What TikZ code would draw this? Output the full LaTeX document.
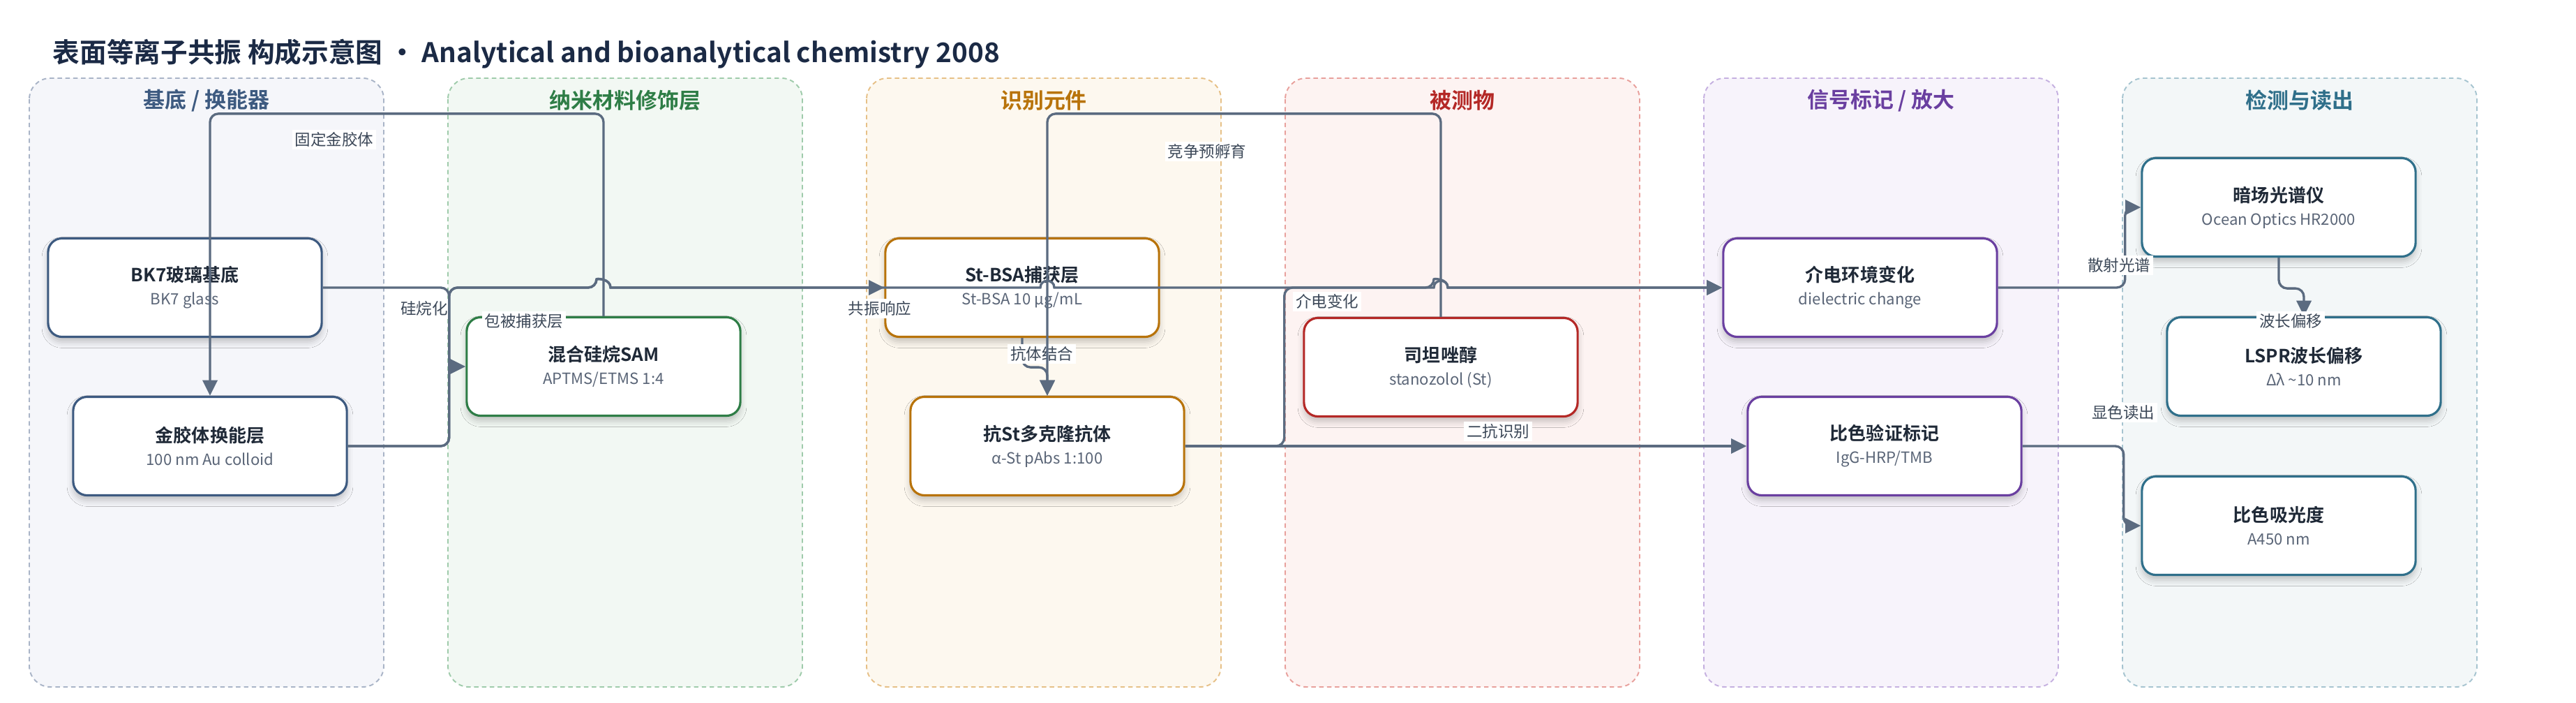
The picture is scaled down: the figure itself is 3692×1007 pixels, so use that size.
\documentclass[tikz,border=0pt]{standalone}
\usepackage{fontspec}
\setmainfont{Noto Sans CJK SC}[BoldFont={Noto Sans CJK SC Bold}]
\usetikzlibrary{arrows.meta,calc,shadows.blur}

\definecolor{ink}{HTML}{1F2937}
\definecolor{sub}{HTML}{5A6577}
\definecolor{wire}{HTML}{5B6B80}
\definecolor{tagc}{HTML}{3C4858}
\definecolor{headc}{HTML}{1B2A45}
\definecolor{hueA}{HTML}{3D5A80}\definecolor{bgA}{HTML}{F5F6FA}\definecolor{rimA}{HTML}{A9B4C7}
\definecolor{hueB}{HTML}{2E7D46}\definecolor{bgB}{HTML}{F2F8F3}\definecolor{rimB}{HTML}{9FCBAB}
\definecolor{hueC}{HTML}{B8730A}\definecolor{bgC}{HTML}{FDF8EF}\definecolor{rimC}{HTML}{E6C087}
\definecolor{hueD}{HTML}{B42826}\definecolor{bgD}{HTML}{FDF3F2}\definecolor{rimD}{HTML}{E8A09C}
\definecolor{hueE}{HTML}{6A3FA0}\definecolor{bgE}{HTML}{F7F3FB}\definecolor{rimE}{HTML}{C5B0E0}
\definecolor{hueF}{HTML}{2F6F8A}\definecolor{bgF}{HTML}{F3F7F8}\definecolor{rimF}{HTML}{A6C4D0}

\newcommand{\duo}[2]{{\fontsize{7.4}{9}\selectfont\bfseries\color{ink}#1}\\{\color{sub}#2}}

\tikzset{
  lane/.style={dash pattern=on 1.8pt off 1.4pt, line width=0.55pt, rounded corners=0.3cm},
  lanehead/.style={font=\fontsize{8.8}{11}\selectfont\bfseries},
  card/.style={draw=#1, line width=0.9pt, fill=white, rounded corners=0.2cm,
    minimum width=3.92cm, minimum height=1.41cm, align=center,
    font=\fontsize{6.3}{9.4}\selectfont,
    blur shadow={shadow xshift=0pt, shadow yshift=-2pt, shadow blur radius=2.5pt, shadow opacity=22}},
  flow/.style={draw=wire, line width=0.95pt, rounded corners=0.12cm,
    -{Triangle[length=6.3pt,width=6pt]}},
  tag/.style={fill=white, inner sep=1pt, text=tagc, font=\fontsize{6.4}{7}\selectfont},
  hop/.style={insert path={.. controls ($(#1)+(-10,-13)$) and ($(#1)+(10,-13)$) .. ($(#1)+(10,0)$)}}
}

\begin{document}
\begin{tikzpicture}[x=0.01cm, y=-0.01cm]
\useasboundingbox (0,0) rectangle (3692,1007);

\node[anchor=west, inner sep=0, text=headc, font=\fontsize{11}{13}\selectfont\bfseries] (head) at (75,77)
  {表面等离子共振 构成示意图 · Analytical and bioanalytical chemistry 2008};

% lanes
\foreach \i/\name/\c in {0/{基底 / 换能器}/A,1/{纳米材料修饰层}/B,2/{识别元件}/C,3/{被测物}/D,4/{信号标记 / 放大}/E,5/{检测与读出}/F} {
\draw[lane, draw=rim\c, fill=bg\c] ({42+600*\i},112) rectangle ({550+600*\i},984);
\node[lanehead, text=hue\c] (lane\i) at ({296+600*\i},144) {\name};
}

% cards
\node[card=hueA] (bk7) at (265,412) {\duo{BK7玻璃基底}{BK7 glass}};
\node[card=hueA] (au) at (301,639) {\duo{金胶体换能层}{100 nm Au colloid}};
\node[card=hueB] (sam) at (865,525) {\duo{混合硅烷SAM}{APTMS/ETMS 1:4}};
\node[card=hueC] (stbsa) at (1465,412) {\duo{St-BSA捕获层}{St-BSA 10 µg/mL}};
\node[card=hueC] (ab) at (1501,639) {\duo{抗St多克隆抗体}{α-St pAbs 1:100}};
\node[card=hueD] (st) at (2065,526) {\duo{司坦唑醇}{stanozolol (St)}};
\node[card=hueE] (diel) at (2666,412) {\duo{介电环境变化}{dielectric change}};
\node[card=hueE] (hrp) at (2701,639) {\duo{比色验证标记}{IgG-HRP/TMB}};
\node[card=hueF] (spec) at (3266,297) {\duo{暗场光谱仪}{Ocean Optics HR2000}};
\node[card=hueF] (lspr) at (3302,525) {\duo{LSPR波长偏移}{Δλ \textasciitilde10 nm}};
\node[card=hueF] (abs) at (3266,753) {\duo{比色吸光度}{A450 nm}};

% line jumps
\coordinate (j1) at (sam.north |- bk7.east);
\coordinate (j2) at (ab.north |- bk7.east);
\coordinate (j3) at (st.north |- bk7.east);

% connectors
\draw[flow] (bk7.east) -- ++(181,0) |- (sam.west);
\node[tag] (t1) at (608,442) {硅烷化};
\draw[flow] (sam.north) -- ++(0,-290) -| (au.north);
\node[tag] (t2) at (479,200) {固定金胶体};
\draw[flow] (au.east) -- ++(145,0) |- ($(j1)+(-10,0)$) [sharp corners, hop=j1] -- (stbsa.west);
\node[tag] (t3) at (751,460) {包被捕获层};
\draw[flow] (au.east) -- ++(145,0) |- ($(j1)+(-10,0)$) [sharp corners, hop=j1]
  -- ($(j2)+(-10,0)$) [hop=j2] -- ($(j3)+(-10,0)$) [hop=j3] -- (diel.west);
\node[tag] (t4) at (1261,442) {共振响应};
\draw[flow] (stbsa.south) -- ++(0,42) -| (ab.north);
\node[tag] (t5) at (1493,507) {抗体结合};
\draw[flow] (st.north) -- ++(0,-291) -| (ab.north);
\node[tag] (t6) at (1730,217) {竞争预孵育};
\draw[flow] (ab.east) -- ++(142,0) |- ($(j3)+(-10,0)$) [sharp corners, hop=j3] -- (diel.west);
\node[tag] (t7) at (1902,432) {介电变化};
\draw[flow] (ab.east) -- (hrp.west);
\node[tag] (t8) at (2147,618) {二抗识别};
\draw[flow] (diel.east) -- ++(182,0) |- (spec.west);
\node[tag] (t9) at (3037,380) {散射光谱};
\draw[flow] (spec.south) -- ++(0,44) -| (lspr.north);
\node[tag] (t10) at (3283,460) {波长偏移};
\draw[flow] (hrp.east) -- ++(145,0) |- (abs.west);
\node[tag] (t11) at (3043,591) {显色读出};

\end{tikzpicture}
\end{document}
